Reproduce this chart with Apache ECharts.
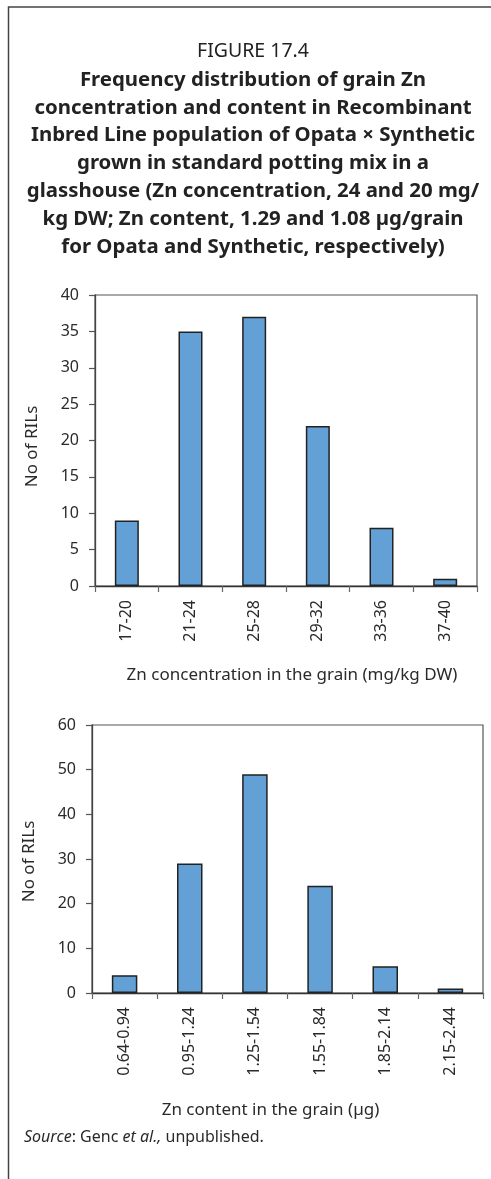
<!DOCTYPE html>
<html>
<head>
<meta charset="utf-8">
<script src="https://cdn.jsdelivr.net/npm/echarts@6/dist/echarts.min.js"></script>
<style>html,body{margin:0;padding:0;background:#fff;}#c{width:491px;height:1179px;}</style>
</head>
<body>
<div id="c"></div>
<script>
const titleLine = 'FIGURE 17.4';
const captionLines = [
  'Frequency distribution of grain Zn',
  'concentration and content in Recombinant',
  'Inbred Line population of Opata × Synthetic',
  'grown in standard potting mix in a',
  'glasshouse (Zn concentration, 24 and 20 mg/',
  'kg DW; Zn content, 1.29 and 1.08 µg/grain',
  'for Opata and Synthetic, respectively)'
];
const concCategories = ['17-20','21-24','25-28','29-32','33-36','37-40'];
const concCounts = [9, 35, 37, 22, 8, 1];
const contentCategories = ['0.64-0.94','0.95-1.24','1.25-1.54','1.55-1.84','1.85-2.14','2.15-2.44'];
const contentCounts = [4, 29, 49, 24, 6, 1];
const yName = 'No of RILs';
const concAxisName = 'Zn concentration in the grain (mg/kg DW)';
const contentAxisName = 'Zn content in the grain (µg)';

const FONT = '"Noto Sans", "Open Sans", sans-serif';
const TXT = '#2a2a2a';
const chart = echarts.init(document.getElementById('c'), null, {renderer: 'canvas'});

function xAxis(idx, cats, name, gap, pad) {
  return {
    type: 'category', gridIndex: idx, data: cats,
    axisLine: {lineStyle: {color: '#333', width: 1.3}},
    axisTick: {show: true, length: 6, lineStyle: {color: '#666', width: 1.2}},
    axisLabel: {rotate: 90, margin: 14, color: TXT, fontSize: 16, fontFamily: FONT},
    name: name, nameLocation: 'middle', nameGap: gap,
    nameTextStyle: {color: TXT, fontSize: 17, fontFamily: FONT, padding: pad}
  };
}
function yAxis(idx, max, interval, gap, pad) {
  return {
    type: 'value', gridIndex: idx, min: 0, max: max, interval: interval,
    splitLine: {show: false},
    axisLine: {show: true, lineStyle: {color: '#444', width: 1.3}},
    axisTick: {show: true, length: 6, lineStyle: {color: '#555', width: 1.2}},
    axisLabel: {margin: 16, color: TXT, fontSize: 16, fontFamily: FONT},
    name: yName, nameLocation: 'middle', nameGap: gap, nameRotate: 90,
    nameTextStyle: {color: TXT, fontSize: 17, fontFamily: FONT, padding: pad}
  };
}
const barStyle = {color: '#62a0d5', borderColor: '#222', borderWidth: 1.5};

chart.setOption({
  animation: false,
  title: {
    text: titleLine,
    subtext: captionLines.join('\n'),
    left: 253, textAlign: 'center', top: 38, padding: 0, itemGap: 1,
    textStyle: {fontFamily: FONT, fontSize: 19.5, fontWeight: 'normal', color: '#222', lineHeight: 27},
    subtextStyle: {fontFamily: FONT, fontSize: 20.4, fontWeight: 'bold', color: '#222', lineHeight: 27.8}
  },
  grid: [
    {left: 95, top: 295, width: 382, height: 291, show: true, borderColor: '#555', borderWidth: 1.2},
    {left: 92, top: 725, width: 391, height: 268, show: true, borderColor: '#555', borderWidth: 1.2}
  ],
  xAxis: [
    xAxis(0, concCategories, concAxisName, 81, [0, 0, 0, 12]),
    xAxis(1, contentCategories, contentAxisName, 109, [0, 34, 0, 0])
  ],
  yAxis: [yAxis(0, 40, 5, 54, [0, 12, 0, 0]), yAxis(1, 60, 10, 54, [0, 5, 0, 0])],
  series: [
    {type: 'bar', xAxisIndex: 0, yAxisIndex: 0, data: concCounts, barWidth: 24, itemStyle: barStyle},
    {type: 'bar', xAxisIndex: 1, yAxisIndex: 1, data: contentCounts, barWidth: 25.5, itemStyle: barStyle}
  ],
  graphic: [
    {type: 'polyline', shape: {points: [[8.5, 1200], [8.5, 7], [500, 7]]}, style: {stroke: '#444', lineWidth: 1.5, fill: null}},
    {type: 'text', left: 24, top: 1129, style: {
      text: '{i|Source}: Genc {i|et al.,} unpublished.',
      fontFamily: FONT, fontSize: 16, fill: TXT,
      rich: {i: {fontStyle: 'italic', fontFamily: FONT, fontSize: 16, fill: TXT}}
    }}
  ]
});
</script>
</body>
</html>
